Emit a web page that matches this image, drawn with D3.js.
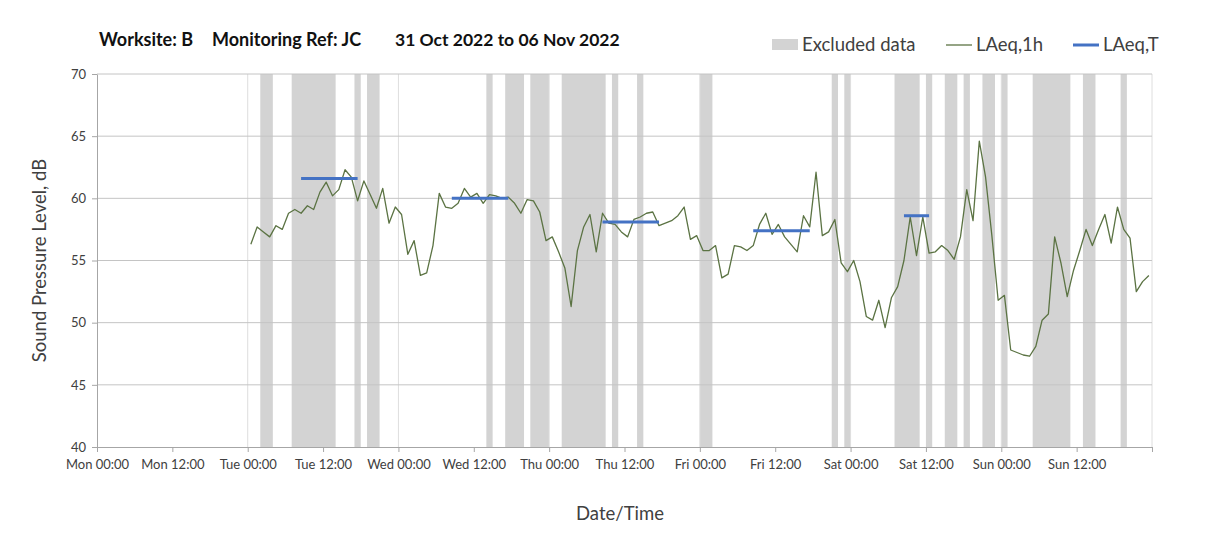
<!DOCTYPE html>
<html>
<head>
<meta charset="utf-8">
<style>
    body { margin: 0; background: #fff; }
    svg text { font-family: Lato, "Open Sans", sans-serif; fill: #404040; }
    .hgrid line { stroke: #c4c4c4; stroke-width: 1px; }
    .vgrid line { stroke: #dedede; stroke-width: 1px; }
    .axis path, .axis line { stroke: #a6a6a6; }
    .axis text { font-size: 13px; fill: #404040; }
    .band { fill: #d3d3d3; }
    .l1h { fill: none; stroke: #5b7343; stroke-width: 1.3px; stroke-linejoin: round; }
    .lt { stroke: #4472c4; stroke-width: 3px; }
    .title { font-size: 18px; font-weight: bold; fill: #111; }
    .legend { font-size: 18.5px; }
    .axTitle { font-size: 18.5px; }
</style>
</head>
<body>
<svg id="chart" width="1205" height="554"></svg>
<script src="https://cdn.jsdelivr.net/npm/d3@7"></script>
<script>
// hourly LAeq,1h values, first reading Tue 01 Nov 00:30, one per hour
const firstReading = "2022-11-01 00:30"
const laeq1h = [
    56.3, 57.7, 57.3, 56.9, 57.8, 57.5, 58.8, 59.1, 58.8, 59.4, 59.1, 60.5,
    61.3, 60.2, 60.7, 62.3, 61.7, 59.8, 61.4, 60.3, 59.2, 60.8, 58.0, 59.3,
    58.7, 55.5, 56.6, 53.8, 54.0, 56.2, 60.4, 59.3, 59.2, 59.6, 60.8, 60.1,
    60.4, 59.6, 60.3, 60.2, 60.0, 60.1, 59.6, 58.8, 59.9, 59.8, 58.9, 56.6,
    56.9, 55.7, 54.4, 51.3, 55.8, 57.7, 58.7, 55.7, 58.8, 58.0, 57.9, 57.3,
    56.9, 58.3, 58.5, 58.8, 58.9, 57.8, 58.0, 58.2, 58.6, 59.3, 56.7, 57.0,
    55.8, 55.8, 56.2, 53.6, 53.9, 56.2, 56.1, 55.8, 56.2, 57.9, 58.8, 57.1,
    57.9, 56.9, 56.3, 55.7, 58.6, 57.7, 62.1, 57.0, 57.3, 58.3, 54.8, 54.1,
    55.0, 53.3, 50.5, 50.2, 51.8, 49.6, 52.0, 52.9, 55.0, 58.5, 55.4, 58.5,
    55.6, 55.7, 56.2, 55.8, 55.1, 56.9, 60.7, 58.2, 64.6, 61.7, 57.0, 51.8,
    52.2, 47.8, 47.6, 47.4, 47.3, 48.1, 50.2, 50.7, 56.9, 54.8, 52.1, 54.2,
    55.8, 57.5, 56.2, 57.5, 58.7, 56.4, 59.3, 57.5, 56.8, 52.5, 53.3, 53.8
]

// LAeq,T over each daytime period
const periodStart = ["2022-11-01 08:30", "2022-11-02 08:30", "2022-11-03 08:30", "2022-11-04 08:30", "2022-11-05 08:30"]
const periodEnd   = ["2022-11-01 17:30", "2022-11-02 17:30", "2022-11-03 17:30", "2022-11-04 17:30", "2022-11-05 12:30"]
const laeqT       = [61.6, 60.0, 58.1, 57.4, 58.6]

// excluded data windows
const exclStart = ["2022-11-01 02:00", "2022-11-01 07:00", "2022-11-01 17:00", "2022-11-01 19:00",
                   "2022-11-02 14:00", "2022-11-02 17:00", "2022-11-02 21:00", "2022-11-03 02:00",
                   "2022-11-03 10:00", "2022-11-03 14:00", "2022-11-04 00:00", "2022-11-04 21:00",
                   "2022-11-04 23:00", "2022-11-05 07:00", "2022-11-05 12:00", "2022-11-05 15:00",
                   "2022-11-05 18:00", "2022-11-05 21:00", "2022-11-06 00:00", "2022-11-06 05:00",
                   "2022-11-06 13:00", "2022-11-06 19:00"]
const exclEnd   = ["2022-11-01 04:00", "2022-11-01 14:00", "2022-11-01 18:00", "2022-11-01 21:00",
                   "2022-11-02 15:00", "2022-11-02 20:00", "2022-11-03 00:00", "2022-11-03 09:00",
                   "2022-11-03 11:00", "2022-11-03 15:00", "2022-11-04 02:00", "2022-11-04 22:00",
                   "2022-11-05 00:00", "2022-11-05 11:00", "2022-11-05 13:00", "2022-11-05 17:00",
                   "2022-11-05 19:00", "2022-11-05 23:00", "2022-11-06 01:00", "2022-11-06 11:00",
                   "2022-11-06 15:00", "2022-11-06 20:00"]

const yTicks = [40, 45, 50, 55, 60, 65, 70]
const xStart = "2022-10-31 00:00"
const xEnd = "2022-11-07 00:00"

const parse = d3.utcParse("%Y-%m-%d %H:%M")
const svg = d3.select("#chart")
const margin = {top: 74, right: 53, bottom: 107, left: 97}
const width = 1205 - margin.left - margin.right
const height = 554 - margin.top - margin.bottom
const body = svg.append("g").attr("transform", "translate(" + margin.left + "," + margin.top + ")")

let x = d3.scaleUtc().domain([parse(xStart), parse(xEnd)]).range([0, width])
let y = d3.scaleLinear().domain([40, 70]).range([height, 0])

let t0 = parse(firstReading)
let series = laeq1h.map((v, i) => ({date: d3.utcHour.offset(t0, i), value: v}))
let bands = exclStart.map((s, i) => ({s: parse(s), e: parse(exclEnd[i])}))
let periods = laeqT.map((v, i) => ({s: parse(periodStart[i]), e: parse(periodEnd[i]), value: v}))

// excluded data shading
body.selectAll(".band").data(bands).enter().append("rect")
    .attr("class", "band")
    .attr("x", d => x(d.s))
    .attr("width", d => x(d.e) - x(d.s))
    .attr("y", 0)
    .attr("height", height)

// gridlines
let xTicks12 = d3.utcHour.every(12).range(parse(xStart), d3.utcHour.offset(parse(xEnd), 1))
let dayTicks = d3.utcDay.range(parse(xStart), d3.utcHour.offset(parse(xEnd), 1))
body.append("g").attr("class", "vgrid")
    .selectAll("line").data(dayTicks.slice(1)).enter().append("line")
    .attr("x1", d => x(d)).attr("x2", d => x(d))
    .attr("y1", 0).attr("y2", height)
body.append("g").attr("class", "hgrid")
    .selectAll("line").data(yTicks.slice(1)).enter().append("line")
    .attr("x1", 0).attr("x2", width)
    .attr("y1", d => y(d)).attr("y2", d => y(d))

// axes
body.append("g").attr("class", "axis")
    .call(d3.axisLeft(y).tickValues(yTicks).tickSize(5).tickPadding(6).tickSizeOuter(0))
body.append("g").attr("class", "axis")
    .attr("transform", "translate(0," + height + ")")
    .call(d3.axisBottom(x).tickValues(xTicks12).tickSize(5).tickPadding(8).tickSizeOuter(0)
        .tickFormat((d, i) => i < xTicks12.length - 1 ? d3.utcFormat("%a %H:%M")(d) : ""))

// LAeq,1h line
let line = d3.line().x(d => x(d.date)).y(d => y(d.value))
body.append("path").datum(series).attr("class", "l1h").attr("d", line)

// LAeq,T segments
body.selectAll(".lt").data(periods).enter().append("line")
    .attr("class", "lt")
    .attr("x1", d => x(d.s)).attr("x2", d => x(d.e))
    .attr("y1", d => y(d.value)).attr("y2", d => y(d.value))

// title
svg.append("text").attr("class", "title").attr("x", 99).attr("y", 46).text("Worksite: B")
svg.append("text").attr("class", "title").attr("x", 212).attr("y", 46).text("Monitoring Ref: JC")
svg.append("text").attr("class", "title").attr("x", 395).attr("y", 46).style("font-size", "17.5px")
    .text("31 Oct 2022 to 06 Nov 2022")

// legend
let lg = svg.append("g")
lg.append("rect").attr("class", "band").attr("x", 772).attr("y", 39).attr("width", 26).attr("height", 11)
lg.append("text").attr("class", "legend").attr("x", 802).attr("y", 51).text("Excluded data")
lg.append("line").attr("class", "l1h").attr("x1", 946).attr("x2", 972).attr("y1", 45).attr("y2", 45)
lg.append("text").attr("class", "legend").attr("x", 976).attr("y", 51).text("LAeq,1h")
lg.append("line").attr("class", "lt").attr("x1", 1073).attr("x2", 1099).attr("y1", 45).attr("y2", 45)
lg.append("text").attr("class", "legend").attr("x", 1103).attr("y", 51).text("LAeq,T")

// axis titles
svg.append("text").attr("class", "axTitle")
    .attr("transform", "translate(46," + (margin.top + height / 2) + ") rotate(-90)")
    .attr("text-anchor", "middle").text("Sound Pressure Level, dB")
svg.append("text").attr("class", "axTitle")
    .attr("x", 620).attr("y", 520).attr("text-anchor", "middle").text("Date/Time")
</script>
</body>
</html>
